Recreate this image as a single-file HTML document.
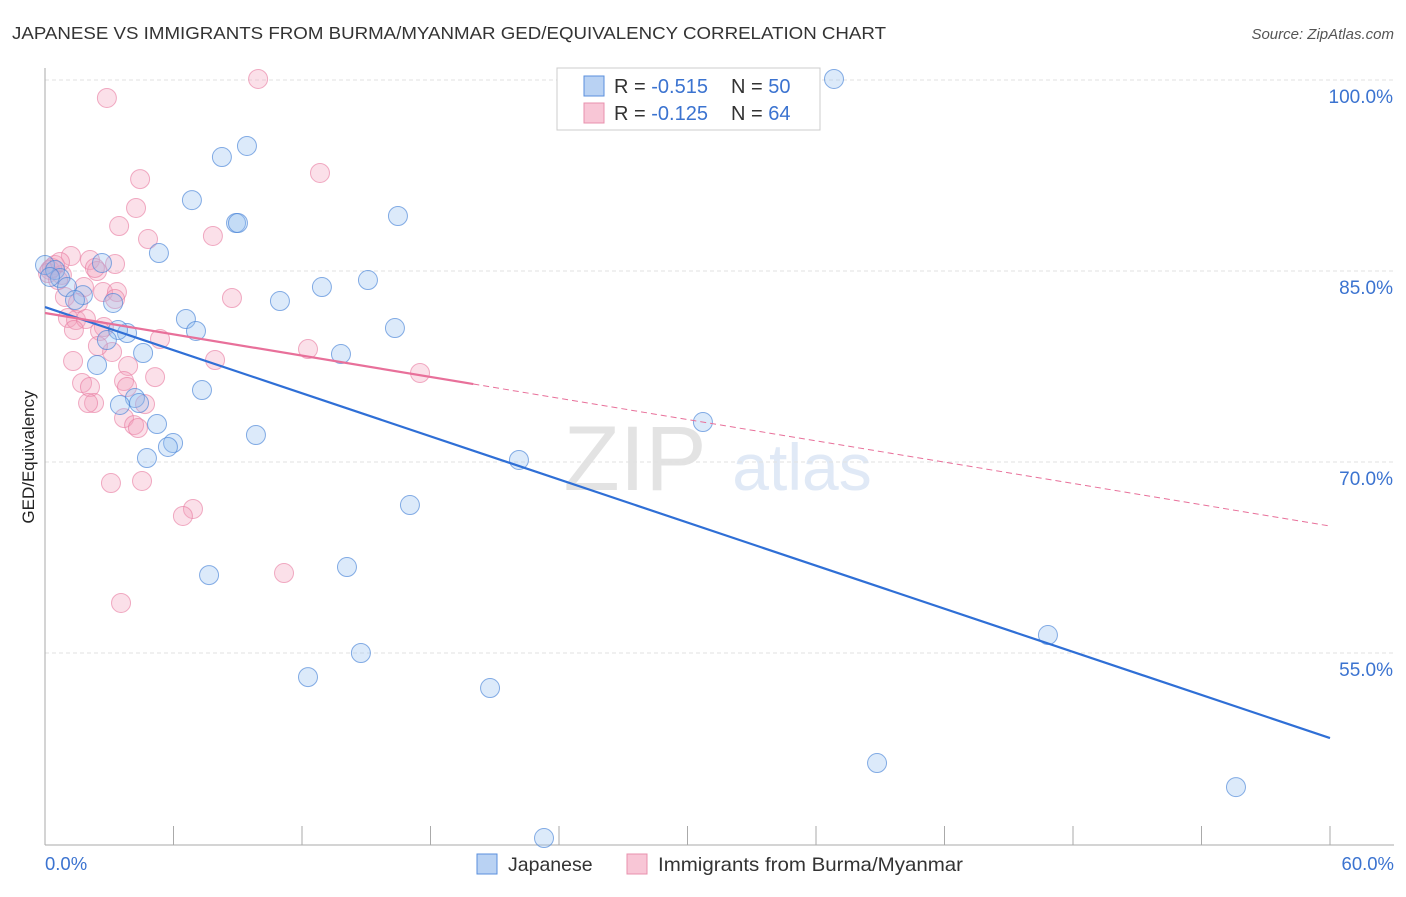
<!DOCTYPE html>
<html><head><meta charset="utf-8"><style>
body{margin:0;background:#fff;font-family:"Liberation Sans",sans-serif}
svg text{font-family:"Liberation Sans",sans-serif}
</style></head><body>
<svg id="c" width="1406" height="892">
<text x="12" y="39" font-size="17.5" fill="#333" textLength="874" lengthAdjust="spacingAndGlyphs">JAPANESE VS IMMIGRANTS FROM BURMA/MYANMAR GED/EQUIVALENCY CORRELATION CHART</text>
<text x="1394" y="39" font-size="15" fill="#555" font-style="italic" text-anchor="end">Source: ZipAtlas.com</text>
<text x="635" y="490" font-size="92" fill="#e3e3e3" font-family="Liberation Serif" text-anchor="middle">ZIP</text>
<text x="802" y="490" font-size="66" fill="#e0e9f6" text-anchor="middle">atlas</text>
<g id="grid"></g>
<g id="axes"></g>
<g id="pts"></g>
<g id="trend"></g>
<text transform="translate(34,457) rotate(-90)" font-size="17" fill="#222" text-anchor="middle">GED/Equivalency</text>
<text x="45" y="870" font-size="18.5" fill="#3b73d0">0.0%</text>
<text x="1394" y="870" font-size="18.5" fill="#3b73d0" text-anchor="end">60.0%</text>
<g>
<rect x="557" y="68" width="263" height="62" fill="#fff" stroke="#ccc"/>
<rect x="584" y="76" width="20" height="20" fill="#b9d2f3" stroke="#5a8fdc"/>
<rect x="584" y="103" width="20" height="20" fill="#f8c6d6" stroke="#e890ad"/>
<text x="614" y="93" font-size="20" fill="#333">R = <tspan fill="#3b73d0">-0.515</tspan></text>
<text x="731" y="93" font-size="20" fill="#333">N = <tspan fill="#3b73d0">50</tspan></text>
<text x="614" y="120" font-size="20" fill="#333">R = <tspan fill="#3b73d0">-0.125</tspan></text>
<text x="731" y="120" font-size="20" fill="#333">N = <tspan fill="#3b73d0">64</tspan></text>
</g>
<g>
<rect x="477" y="854" width="20" height="20" fill="#b9d2f3" stroke="#5a8fdc"/>
<text x="508" y="871" font-size="19.5" fill="#333">Japanese</text>
<rect x="627" y="854" width="20" height="20" fill="#f8c6d6" stroke="#e890ad"/>
<text x="658" y="871" font-size="19.5" fill="#333" textLength="305" lengthAdjust="spacingAndGlyphs">Immigrants from Burma/Myanmar</text>
</g>
</svg>
<script>
const yTicks=[100,85,70,55];
const yTickLabels=["100.0%","85.0%","70.0%","55.0%"];
const blueX=[36.84,9.43,8.26,6.86,8.92,9.01,16.48,5.32,2.66,0,0.47,0.70,1.03,1.77,1.40,3.18,10.97,12.93,15.08,6.58,7.05,3.83,3.41,2.89,16.34,4.58,13.82,2.43,7.33,4.20,3.50,4.39,5.23,5.98,5.74,9.85,30.72,4.76,22.13,17.04,7.66,14.10,46.83,14.75,12.28,20.78,38.85,55.61,23.30,0.23];
const blueY=[100.08,94.82,93.95,90.57,88.77,88.77,89.32,86.41,85.63,85.47,85.08,84.45,83.74,83.11,82.72,82.49,82.64,83.74,84.29,81.23,80.29,80.13,80.37,79.58,80.52,78.56,78.48,77.62,75.65,75.03,74.48,74.63,72.98,71.49,71.18,72.12,73.14,70.31,70.16,66.62,61.12,61.75,56.41,55.0,53.11,52.25,46.36,44.47,40.47,84.53];
const pinkX=[9.95,2.89,4.44,12.84,4.25,3.46,4.81,7.84,1.21,2.10,3.27,0.47,0.23,0.14,0.79,2.43,1.82,2.71,3.36,8.73,3.27,0.93,1.54,1.07,1.45,1.91,2.75,2.57,1.35,5.37,12.28,3.13,2.47,7.94,1.31,3.88,17.51,5.14,1.73,3.69,3.83,2.10,2.29,2.01,4.67,3.69,4.16,4.34,3.08,4.53,6.91,6.44,11.16,3.55,0.61,0.33,0.70,2.33];
const pinkY=[100.08,98.59,92.22,92.70,89.95,88.53,87.51,87.75,86.18,85.86,85.55,85.47,85.08,84.84,84.69,85.0,83.74,83.35,83.35,82.88,82.80,82.96,82.49,81.31,81.15,81.23,80.60,80.29,80.37,79.66,78.87,78.64,79.11,78.01,77.93,77.54,76.99,76.67,76.20,76.36,75.89,75.89,74.63,74.63,74.55,73.45,72.90,72.67,68.35,68.51,66.31,65.76,61.28,58.93,84.29,85.24,85.71,85.24];
const blueTrend=[82.17,48.32];
const pinkTrend=[81.70,64.97];
const pinkSolidEnd=20;
const NS="http://www.w3.org/2000/svg";
const sx=v=>45+v*(1285/60);
const sy=v=>80+(100-v)*(191/15);
function mk(t,a,p){const e=document.createElementNS(NS,t);for(const k in a)e.setAttribute(k,a[k]);p.appendChild(e);return e;}
const grid=document.getElementById('grid');
yTicks.forEach((t,i)=>{
 const l=mk('line',{x1:45,x2:1394,y1:sy(t),y2:sy(t),stroke:'#e2e2e2','stroke-width':1,'stroke-dasharray':'4,3'},grid);
 
 
 const tx=mk('text',{x:1393,y:sy(t)+23,'font-size':19,fill:'#3b73d0','text-anchor':'end'},grid);
 tx.textContent=yTickLabels[i];
 
 
});
const ax=document.getElementById('axes');
const yl=mk('line',{x1:45,x2:45,y1:68,y2:845,stroke:'#aaa'},ax);


const xl=mk('line',{x1:45,x2:1394,y1:845,y2:845,stroke:'#aaa'},ax);


for(let i=1;i<=10;i++){
 const t=mk('line',{x1:sx(i*6),x2:sx(i*6),y1:826,y2:845,stroke:'#aaa'},ax);
 
 
}
const pts=document.getElementById('pts');
pinkX.forEach((x,i)=>{
 const c=mk('circle',{cx:sx(x),cy:sy(pinkY[i]),r:9.5,fill:'rgba(244,160,188,0.33)',stroke:'rgba(232,120,158,0.6)','stroke-width':1},pts);
 
 
});
blueX.forEach((x,i)=>{
 const c=mk('circle',{cx:sx(x),cy:sy(blueY[i]),r:9.5,fill:'rgba(150,190,240,0.33)',stroke:'rgba(70,130,215,0.65)','stroke-width':1},pts);
 
 
});
const tr=document.getElementById('trend');
const bl=mk('line',{x1:sx(0),y1:sy(blueTrend[0]),x2:sx(60),y2:sy(blueTrend[1]),stroke:'#2f6fd6','stroke-width':2.2},tr);


const pm=pinkTrend[0]+(pinkTrend[1]-pinkTrend[0])*pinkSolidEnd/60;
const ps=mk('line',{x1:sx(0),y1:sy(pinkTrend[0]),x2:sx(pinkSolidEnd),y2:sy(pm),stroke:'#e8709a','stroke-width':2.2},tr);


const pd=mk('line',{x1:sx(pinkSolidEnd),y1:sy(pm),x2:sx(60),y2:sy(pinkTrend[1]),stroke:'#e8709a','stroke-width':1,'stroke-dasharray':'6,4'},tr);


</script>
</body></html>
